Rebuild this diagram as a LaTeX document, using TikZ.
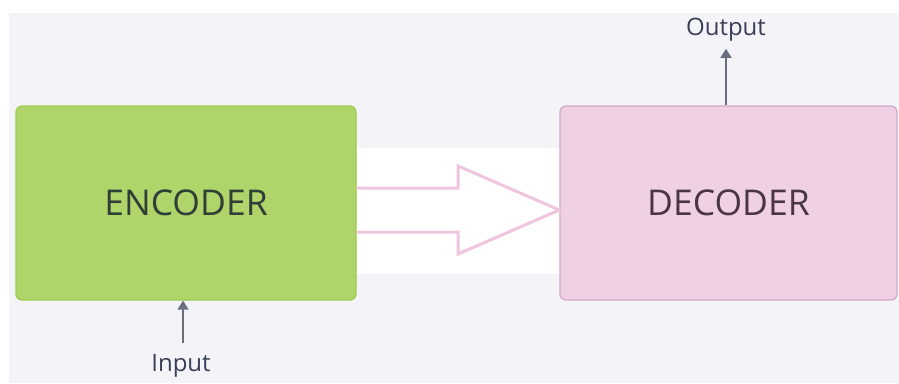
\documentclass[tikz,border=0pt]{standalone}
\usepackage{fontspec}
\setmainfont{Open Sans}
\usetikzlibrary{arrows.meta,calc}
\definecolor{bggray}{HTML}{F4F4F8}
\definecolor{encfill}{HTML}{AED46A}
\definecolor{encline}{HTML}{9CCB50}
\definecolor{decfill}{HTML}{F0D0E4}
\definecolor{decline}{HTML}{D4A8CA}
\definecolor{arrowpink}{HTML}{F0C6DE}
\definecolor{conngray}{HTML}{6A6E80}
\definecolor{enctext}{HTML}{2F3F38}
\definecolor{dectext}{HTML}{4A3548}
\definecolor{labtext}{HTML}{3A3F58}
\begin{document}
\begin{tikzpicture}[x=1pt,y=-1pt,
  box/.style={rounded corners=6pt,minimum width=#1,minimum height=194pt,inner sep=0pt,line width=1.2pt,font=\fontsize{35.5}{40}\selectfont},
  label/.style={font=\fontsize{24}{28}\selectfont,text=labtext,inner sep=2pt},
  conn/.style={draw=conngray,line width=1.5pt,-{Triangle[width=11pt,length=9pt]}},
  bigarrow/.style={draw=arrowpink,line width=3pt,line join=miter}]
\useasboundingbox (0,0) rectangle (899,383);
\fill[white] (0,0) rectangle (899,383);
\fill[bggray] (9,13) rectangle (899,383);
\fill[white] (355,148) rectangle (560,274);
\node[box=340pt,fill=encfill,draw=encline,text=enctext] (enc) at (186,203) {ENCODER};
\node[box=337pt,fill=decfill,draw=decline,text=dectext] (dec) at (728.5,203) {DECODER};
\node[label] (in) at (181,366) {Input};
\node[label] (out) at (726,30) {Output};
\coordinate (tipA) at ($(dec.west)+(0,7)$);
\coordinate (inTop) at ($(in.north)+(2,-9)$);
\coordinate (outBot) at ($(out.south)+(0,5)$);
\draw[bigarrow] ($(enc.east)+(0,-15)$) -- (458,188) -- (458,166) -- (tipA) -- (458,254) -- (458,232) -- ($(enc.east)+(0,29)$);
\draw[conn] (inTop) -- (inTop |- enc.south);
\draw[conn] (outBot |- dec.north) -- (outBot);
\end{tikzpicture}
\end{document}
